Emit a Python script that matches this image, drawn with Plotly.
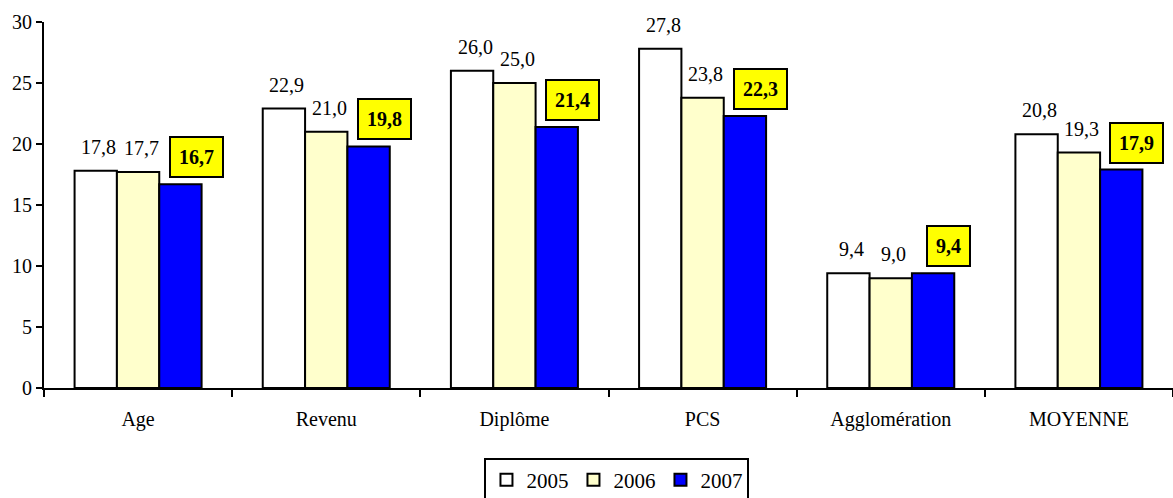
import plotly.graph_objects as go

categories = ["Age", "Revenu", "Diplôme", "PCS", "Agglomération", "MOYENNE"]
years = ["2005", "2006", "2007"]
v2005 = [17.8, 22.9, 26.0, 27.8, 9.4, 20.8]
v2006 = [17.7, 21.0, 25.0, 23.8, 9.0, 19.3]
v2007 = [16.7, 19.8, 21.4, 22.3, 9.4, 17.9]
colors = ["#FFFFFF", "#FFFFCC", "#0000FF"]

FONT = "Liberation Serif, Times New Roman, serif"

def fmt(v):
    return f"{v:.1f}".replace(".", ",")

fig = go.Figure()
for name, vals, col in zip(years, [v2005, v2006, v2007], colors):
    fig.add_trace(go.Bar(
        x=categories, y=vals, name=name,
        marker=dict(color=col, line=dict(color="black", width=2)),
    ))

W = 1173
ml, mr, mt, mb = 44, 0, 22, 110
pw = W - ml - mr
catw = pw / len(categories)
bargap = 0.325
bw = catw * (1 - bargap) / 3

annotations = []
for i, c in enumerate(categories):
    for k, vals in enumerate([v2005, v2006]):
        annotations.append(dict(
            x=c, y=vals[i], xref="x", yref="y", text=fmt(vals[i]),
            showarrow=False, yanchor="middle", yshift=24,
            xshift=(k - 1) * bw + 3,
            font=dict(family=FONT, size=20, color="black"),
        ))
    annotations.append(dict(
        x=c, y=v2007[i], xref="x", yref="y", text="<b>" + fmt(v2007[i]) + "</b>",
        showarrow=False, yanchor="middle", yshift=27, xshift=58,
        font=dict(family=FONT, size=20, color="black"),
        bgcolor="#FFFF00", bordercolor="black", borderwidth=2, borderpad=8,
    ))

fig.update_layout(
    width=W, height=498,
    margin=dict(l=ml, r=mr, t=mt, b=mb, autoexpand=False),
    paper_bgcolor="white", plot_bgcolor="white",
    barmode="group", bargap=bargap, bargroupgap=0,
    font=dict(family=FONT, size=20, color="black"),
    showlegend=True,
    legend=dict(
        orientation="h", x=0.5075, xanchor="center", y=-0.19, yanchor="top",
        bordercolor="black", borderwidth=2, font=dict(family=FONT, size=21),
        itemwidth=30, tracegroupgap=0,
    ),
    annotations=annotations,
    xaxis=dict(
        showline=True, linecolor="black", linewidth=2,
        ticks="outside", tickson="boundaries", ticklen=7, tickwidth=2, tickcolor="black",
        showgrid=False, ticklabelstandoff=12,
        tickfont=dict(family=FONT, size=20),
    ),
    yaxis=dict(
        range=[0, 30], dtick=5, showline=True, linecolor="black", linewidth=2,
        ticks="outside", ticklen=6, tickwidth=2, tickcolor="black",
        showgrid=False, zeroline=False,
        tickfont=dict(family=FONT, size=20),
    ),
)

fig.write_html("out.html", config={"displayModeBar": False},
               post_script="document.body.style.margin='0';document.body.style.padding='0';")
